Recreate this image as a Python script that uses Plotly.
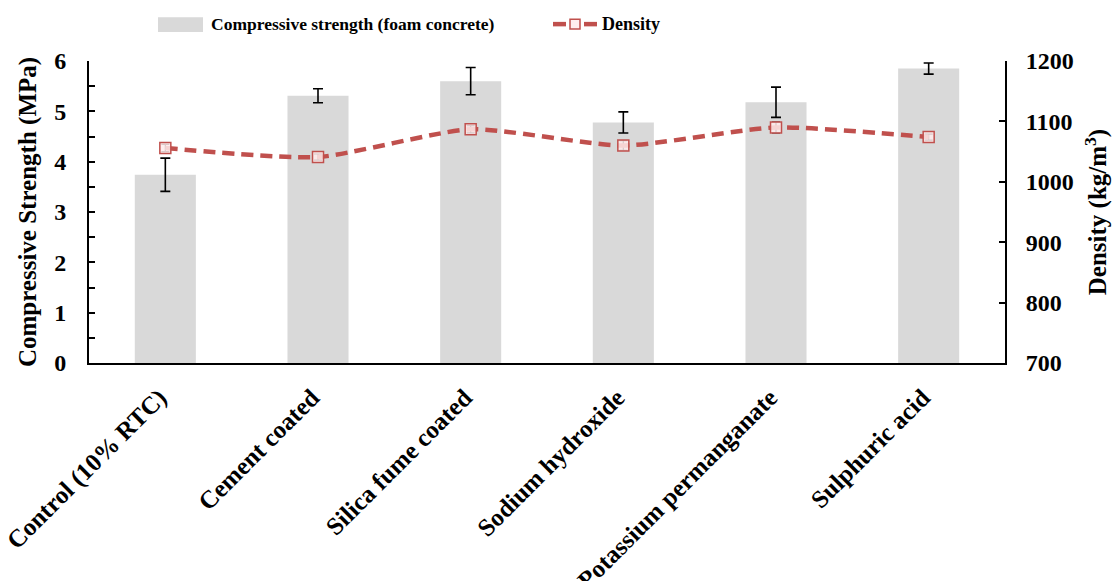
import plotly.graph_objects as go

# Treatment groups for the recycled tyre crumb (RTC) foam concrete
categories = [
    "Control (10% RTC)",
    "Cement coated",
    "Silica fume coated",
    "Sodium hydroxide",
    "Potassium permanganate",
    "Sulphuric acid",
]

# Compressive strength (MPa) with standard deviation
strength = [3.74, 5.31, 5.60, 4.78, 5.18, 5.85]
strength_err = [0.33, 0.14, 0.27, 0.21, 0.30, 0.11]

# Dry density (kg/m3) with standard deviation
density = [1056, 1041, 1087, 1060, 1090, 1074]
density_err = [6, 5, 6, 8, 9, 5]

BAR_COLOR = "#D9D9D9"
LINE_COLOR = "#C0504D"
FONT = "Liberation Serif, Times New Roman, serif"

fig = go.Figure()

fig.add_trace(go.Bar(
    x=categories,
    y=strength,
    name="Compressive strength (foam concrete)",
    marker=dict(color=BAR_COLOR, line=dict(width=0)),
    error_y=dict(type="data", array=strength_err, color="black",
                 thickness=1.6, width=5),
    showlegend=False,
))

fig.add_trace(go.Scatter(
    x=categories,
    y=density,
    yaxis="y2",
    mode="lines+markers",
    name="Density",
    line=dict(color=LINE_COLOR, width=4.5, dash="12px,7px",
              shape="spline", smoothing=0.6),
    marker=dict(symbol="square", size=11, color="rgba(255,235,235,0.85)",
                line=dict(color=LINE_COLOR, width=1.5)),
    error_y=dict(type="data", array=density_err, color="black",
                 thickness=1.2, width=4),
    showlegend=False,
))

# Legend drawn by hand along the top edge
shapes = [
    dict(type="rect", xref="paper", yref="paper", layer="above",
         x0=(158 - 89) / 916, x1=(203 - 89) / 916,
         y0=1 + (61 - 32) / 303, y1=1 + (61 - 17) / 303,
         fillcolor=BAR_COLOR, line=dict(width=0)),
    dict(type="line", xref="paper", yref="paper",
         x0=(553 - 89) / 916, x1=(566 - 89) / 916,
         y0=1 + (61 - 24) / 303, y1=1 + (61 - 24) / 303,
         line=dict(color=LINE_COLOR, width=4.5)),
    dict(type="line", xref="paper", yref="paper",
         x0=(584 - 89) / 916, x1=(597 - 89) / 916,
         y0=1 + (61 - 24) / 303, y1=1 + (61 - 24) / 303,
         line=dict(color=LINE_COLOR, width=4.5)),
    dict(type="rect", xref="paper", yref="paper",
         x0=(570 - 89) / 916, x1=(580 - 89) / 916,
         y0=1 + (61 - 29) / 303, y1=1 + (61 - 19) / 303,
         fillcolor="rgba(255,235,235,0.85)",
         line=dict(color=LINE_COLOR, width=1.5)),
]

annotations = [
    dict(xref="paper", yref="paper", x=(209 - 89) / 916,
         y=1 + (61 - 24) / 303, xanchor="left", yanchor="middle",
         text="<b>Compressive strength (foam concrete)</b>", showarrow=False,
         font=dict(family=FONT, size=17.5, color="black")),
    dict(xref="paper", yref="paper", x=(600 - 89) / 916,
         y=1 + (61 - 24) / 303, xanchor="left", yanchor="middle",
         text="<b>Density</b>", showarrow=False,
         font=dict(family=FONT, size=18, color="black")),
]

fig.update_layout(
    width=1112,
    height=581,
    margin=dict(l=89, r=107, t=61, b=218),
    paper_bgcolor="white",
    plot_bgcolor="white",
    bargap=0.6,
    font=dict(family=FONT, color="black"),
    shapes=shapes,
    annotations=annotations,
    xaxis=dict(
        automargin=False,
        tickangle=-45,
        tickfont=dict(family=FONT, size=25, color="black", weight="bold"),
        ticklabelstandoff=8,
        ticklabelshift=-6,
        showline=True, linecolor="black", linewidth=2,
        ticks="", showgrid=False,
    ),
    yaxis=dict(
        automargin=False,
        range=[0, 6],
        dtick=1,
        showgrid=False,
        zeroline=False,
        showline=True, linecolor="black", linewidth=2,
        ticks="inside", ticklen=6, tickwidth=1.5, tickcolor="black",
        minor=dict(dtick=0.5, ticks="inside", ticklen=6, tickwidth=1.5,
                   tickcolor="black"),
        tickfont=dict(family=FONT, size=24, color="black", weight="bold"),
        ticklabelstandoff=16,
        title=dict(text="<b>Compressive Strength (MPa)</b>",
                   font=dict(family=FONT, size=25, color="black"),
                   standoff=10),
    ),
    yaxis2=dict(
        automargin=False,
        range=[700, 1200],
        dtick=100,
        overlaying="y",
        side="right",
        showgrid=False,
        zeroline=False,
        showline=True, linecolor="black", linewidth=2,
        ticks="inside", ticklen=6, tickwidth=1.5, tickcolor="black",
        tickfont=dict(family=FONT, size=24, color="black", weight="bold"),
        ticklabelstandoff=14,
        title=dict(text="<b>Density (kg/m<sup>3</sup>)</b>",
                   font=dict(family=FONT, size=25, color="black"),
                   standoff=18),
    ),
)

fig.write_html("out.html")
